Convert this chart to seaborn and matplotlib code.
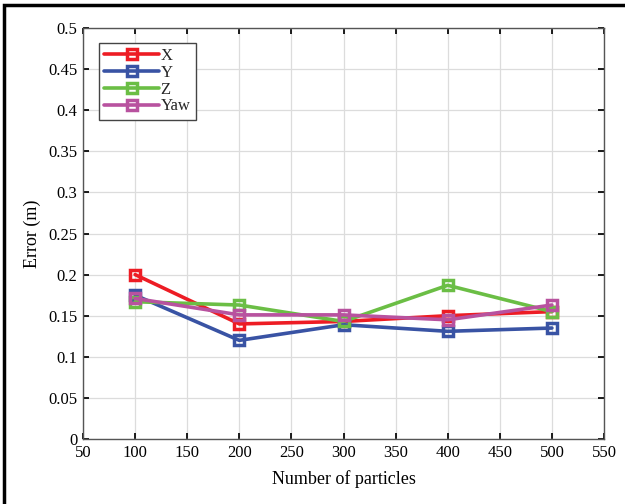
import matplotlib.pyplot as plt
import matplotlib.patches as mpatches
import seaborn as sns
import pandas as pd

particles = [100, 200, 300, 400, 500]
err_x = [0.200, 0.140, 0.143, 0.150, 0.155]
err_y = [0.175, 0.120, 0.139, 0.131, 0.135]
err_z = [0.167, 0.163, 0.143, 0.187, 0.155]
err_yaw = [0.171, 0.151, 0.151, 0.145, 0.163]

series_names = ["X", "Y", "Z", "Yaw"]
colors = ["#ED1C24", "#3953A4", "#6BBE45", "#B8529F"]


def main() -> None:
    sns.set_theme(style="whitegrid")
    plt.rcParams["font.family"] = ["Liberation Serif", "DejaVu Serif"]

    df = pd.DataFrame(
        {"particles": particles, "X": err_x, "Y": err_y, "Z": err_z, "Yaw": err_yaw}
    )
    long_df = df.melt(id_vars="particles", var_name="axis", value_name="error")

    fig = plt.figure(figsize=(6.25, 5.04), dpi=100)
    ax = fig.add_axes([83 / 625, 1 - 439 / 504, (604 - 83) / 625, (439 - 28) / 504])

    sns.lineplot(
        data=long_df,
        x="particles",
        y="error",
        hue="axis",
        hue_order=series_names,
        palette=colors,
        marker="s",
        markersize=7,
        linewidth=2.6,
        ax=ax,
        legend=False,
    )
    # seaborn paints white marker edges; give them the line colour with a hollow centre
    for line in ax.lines:
        line.set_markeredgecolor(line.get_color())
        line.set_markerfacecolor("none")
        line.set_markeredgewidth(2.5)

    ax.set_xlim(50, 550)
    ax.set_ylim(0, 0.5)
    ax.set_xticks(range(50, 551, 50))
    ax.set_yticks([i * 0.05 for i in range(11)])
    ax.set_yticklabels(["0", "0.05", "0.1", "0.15", "0.2", "0.25", "0.3", "0.35", "0.4", "0.45", "0.5"])
    ax.set_xlabel("Number of particles", fontsize=13, color="black", labelpad=7)
    ax.set_ylabel("Error (m)", fontsize=13, color="black", labelpad=5)
    ax.tick_params(axis="both", labelsize=12, colors="black", direction="in", length=4,
                   left=True, bottom=True, top=True, right=True, pad=4)
    ax.grid(True, color="#DCDCDC", linewidth=0.9)
    ax.set_facecolor("white")
    for spine in ax.spines.values():
        spine.set_color("#555555")
        spine.set_linewidth(1.0)

    leg = ax.legend(
        ax.lines[:4],
        series_names,
        loc="upper left",
        bbox_to_anchor=(16 / 521, 1 - 15 / 411),
        fontsize=12,
        frameon=True,
        fancybox=False,
        handlelength=3.3,
        handletextpad=0.1,
        borderpad=0.3,
        labelspacing=0.05,
        borderaxespad=0,
    )
    leg.get_frame().set_edgecolor("#444444")
    leg.get_frame().set_linewidth(1.0)
    leg.get_frame().set_alpha(1)

    fig.patches.append(
        mpatches.Rectangle((4 / 625, -0.1), 1.2, 1 - 5 / 504 + 0.1, transform=fig.transFigure,
                           fill=False, edgecolor="black", linewidth=2.5, zorder=10)
    )

    fig.savefig("out.png", dpi=100)


if __name__ == "__main__":
    main()
